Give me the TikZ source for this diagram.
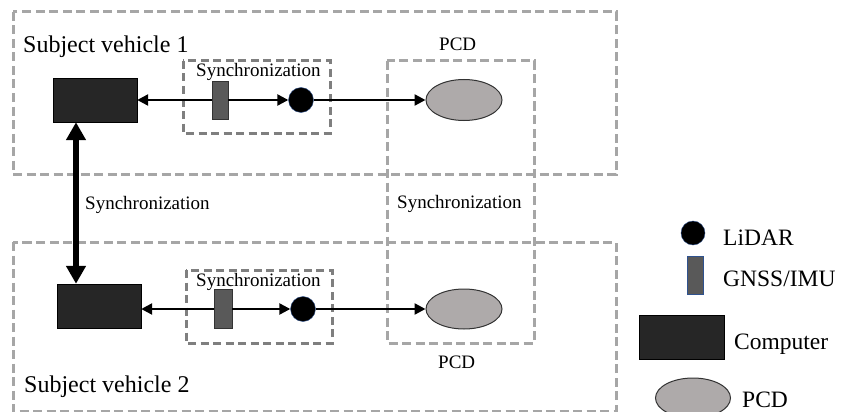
\documentclass[tikz,border=0pt]{standalone}
\usepackage{fontspec}
\setmainfont{Liberation Serif}
\usetikzlibrary{arrows.meta,shapes.geometric}

\definecolor{boxgray}{HTML}{A6A6A6}
\definecolor{syncgray}{HTML}{7F7F7F}
\definecolor{pcgray}{HTML}{262626}
\definecolor{imugray}{HTML}{595959}
\definecolor{pcdgray}{HTML}{AEAAAA}
\definecolor{lidarblue}{HTML}{2F528F}

\begin{document}
\begin{tikzpicture}[x=1pt,y=-1pt,
  vehbox/.style={boxgray, line width=3pt, dash pattern=on 9pt off 4.5pt},
  syncbox/.style={syncgray, line width=3pt, dash pattern=on 8pt off 4.5pt},
  computer/.style={draw=black, fill=pcgray, minimum width=84pt, minimum height=44pt, inner sep=0pt},
  imu/.style={draw=black!80, fill=imugray, minimum width=16pt, minimum height=38pt, inner sep=0pt},
  lidar/.style={circle, draw=lidarblue, fill=black, minimum size=25pt, inner sep=0pt},
  pcd/.style={ellipse, draw=black!80, line width=1pt, fill=pcdgray, minimum width=76pt, minimum height=41pt, inner sep=0pt},
  link/.style={line width=2.4pt, -{Triangle[length=11pt,width=11pt]}},
  bigarrow/.style={line width=6pt, {Triangle[length=18pt,width=19pt]}-{Triangle[length=18pt,width=19pt]}},
  small/.style={font=\fontsize{19}{21}\selectfont, inner sep=0pt, anchor=base west},
  large/.style={font=\fontsize{24}{26}\selectfont, inner sep=0pt, anchor=base west},
  legend/.style={font=\fontsize{23.5}{25}\selectfont, inner sep=0pt, anchor=base west}]
  \useasboundingbox (0,0) rectangle (841,412);

  % dashed boxes
  \draw[vehbox] (13,12) rectangle (616,174);
  \draw[vehbox] (13,242) rectangle (616,411);
  \draw[vehbox] (387,61) rectangle (534,343);
  \draw[syncbox] (183,61) rectangle (330,133);
  \draw[syncbox] (186,270) rectangle (332,343);

  % vehicle 1
  \node[computer] (pc1) at (95,100) {};
  \node[imu] (imu1) at (220,100) {};
  \node[lidar] (lidar1) at (301,100) {};
  \node[pcd] (pcd1) at (464,100) {};

  % vehicle 2
  \node[computer] (pc2) at (99,306) {};
  \node[imu, minimum width=18pt, minimum height=39pt] (imu2) at (223,309) {};
  \node[lidar] (lidar2) at (303,309) {};
  \node[pcd, minimum height=40pt] (pcd2) at (464,309) {};

  \draw[link] (imu1) -- (pc1);
  \draw[link] (imu1) -- (lidar1);
  \draw[link] (lidar1) -- (pcd1);
  \draw[link] (imu2.west) -- (pc2.east |- imu2.west);
  \draw[link] (imu2) -- (lidar2);
  \draw[link] (lidar2) -- (pcd2);
  \draw[bigarrow] ([xshift=-19pt]pc1.south) -- ([xshift=-23pt]pc2.north);

  % labels
  \node[large] (veh1) at (23,53) {Subject vehicle 1};
  \node[large] (veh2) at (24,392) {Subject vehicle 2};
  \node[small] (sync1) at (196,77) {Synchronization};
  \node[small] (sync2) at (196,286) {Synchronization};
  \node[small] (syncv) at (85,209) {Synchronization};
  \node[small] (syncp) at (397,208) {Synchronization};
  \node[small] (pcdlab1) at (439,51) {PCD};
  \node[small] (pcdlab2) at (438,368) {PCD};

  % legend
  \node[lidar, minimum size=24pt] (keylidar) at (693,233) {};
  \node[imu, draw=lidarblue] (keyimu) at (695,275.5) {};
  \node[computer, minimum width=85pt] (keypc) at (681.5,337) {};
  \node[pcd, minimum width=75pt, minimum height=40pt] (keypcd) at (693,398) {};
  \node[legend] (keylidartext) at (723,245) {LiDAR};
  \node[legend] (keyimutext) at (723,286) {GNSS/IMU};
  \node[legend] (keypctext) at (734,349) {Computer};
  \node[legend] (keypcdtext) at (742,407) {PCD};
\end{tikzpicture}
\end{document}
